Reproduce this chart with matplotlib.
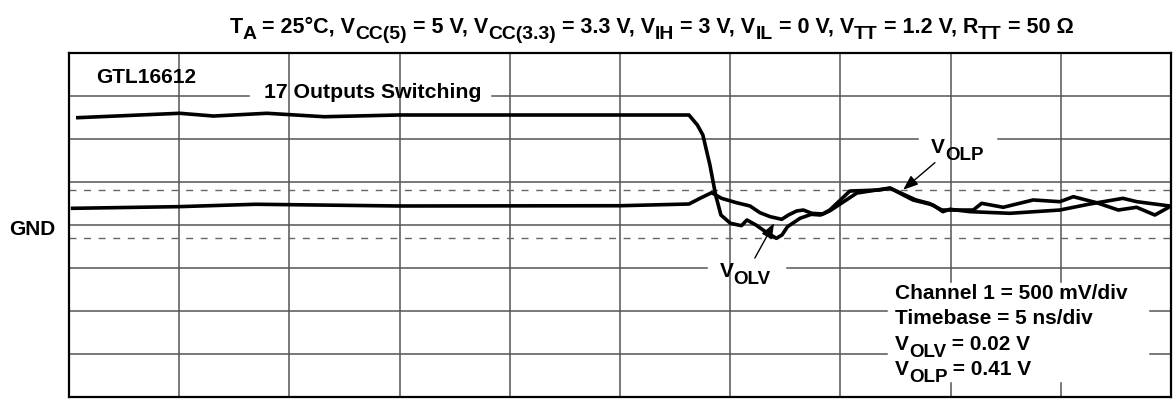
import re
import numpy as np
import matplotlib
matplotlib.use("Agg")
import matplotlib.pyplot as plt

plt.rcParams["font.family"] = ["Liberation Sans", "DejaVu Sans"]

# scope traces, time in ns, voltage in V (500 mV/div, 5 ns/div)
t_hi = [0.40, 5.02, 6.56, 8.98, 11.57, 14.97, 28.13, 28.51, 28.76, 29.08, 29.34,
        29.58, 30.01, 30.51, 30.76, 31.17, 31.60, 32.10, 32.35, 32.60, 33.17,
        33.68, 34.10, 34.52, 35.43, 36.77, 37.27, 37.93, 38.43, 39.02, 39.61,
        41.03, 41.41, 42.39, 43.75, 44.96, 45.57, 46.63, 47.61, 48.44, 49.27, 49.95]
v_hi = [1.248, 1.299, 1.267, 1.299, 1.259, 1.279, 1.279, 1.163, 1.047, 0.698, 0.349,
        0.116, 0.020, -0.008, 0.058, 0.000, -0.078, -0.155, -0.116, -0.020, 0.078,
        0.124, 0.116, 0.174, 0.395, 0.407, 0.427, 0.349, 0.291, 0.252, 0.174,
        0.174, 0.252, 0.206, 0.291, 0.271, 0.329, 0.259, 0.174, 0.206, 0.116, 0.213]

t_lo = [0.16, 4.94, 8.48, 14.97, 25.00, 28.13, 28.63, 29.16, 29.61, 30.29, 30.90,
        31.35, 31.81, 32.34, 32.64, 33.02, 33.32, 33.70, 34.22, 34.53, 35.75,
        37.25, 38.29, 39.20, 39.65, 39.97, 40.88, 42.69, 44.96, 46.32, 47.82,
        48.45, 49.95]
v_lo = [0.194, 0.213, 0.241, 0.221, 0.224, 0.244, 0.310, 0.376, 0.310, 0.259, 0.221,
        0.143, 0.097, 0.066, 0.116, 0.163, 0.174, 0.136, 0.128, 0.166, 0.372,
        0.430, 0.291, 0.233, 0.155, 0.183, 0.155, 0.136, 0.174, 0.244, 0.310,
        0.271, 0.221]

v_olp = 0.41
v_olv = 0.02
v_valley_ref = -0.15

title = ("T_{A} = 25°C, V_{CC(5)} = 5 V, V_{CC(3.3)} = 3.3 V, V_{IH} = 3 V, "
         "V_{IL} = 0 V, V_{TT} = 1.2 V, R_{TT} = 50 Ω")
info_lines = ["Channel 1 = 500 mV/div", "Timebase = 5 ns/div",
              "V_{OLV} = %.2f V" % v_olv, "V_{OLP} = %.2f V" % v_olp]

fig = plt.figure(figsize=(11.76, 4.03), dpi=100)
ax = fig.add_axes([0.0587, 0.0149, 0.9370, 0.8536])
ax.set_xlim(0, 50)
ax.set_ylim(-2, 2)
ax.set_xticks([])
ax.set_yticks([])
for sp in ax.spines.values():
    sp.set_linewidth(1.6)
    sp.set_zorder(5)

# graticule, with breaks where labels sit on the lines
h_gaps = {1.5: [(8.17, 19.19)], 1.0: [(38.52, 42.15)], -0.5: [(28.93, 32.60)],
          -1.0: [(37.10, 49.03)], -1.5: [(37.10, 49.03)]}
v_gaps = {40: [(-1.837, -0.659)], 45: [(-1.837, -0.659)]}


def pieces(lo, hi, gaps):
    out, start = [], lo
    for a, b in gaps:
        out.append((start, a))
        start = b
    out.append((start, hi))
    return out


grid_kw = dict(color="#555555", lw=1.1, zorder=1)
for y in np.arange(-1.5, 2.0, 0.5):
    for a, b in pieces(0, 50, h_gaps.get(round(y, 1), [])):
        ax.plot([a, b], [y, y], **grid_kw)
for x in range(5, 50, 5):
    for a, b in pieces(-2, 2, v_gaps.get(x, [])):
        ax.plot([x, x], [a, b], **grid_kw)

for lvl in (v_olp, v_valley_ref):
    ax.axhline(lvl, color="#666666", lw=1.0, dashes=(5, 5.5), zorder=1)

ax.plot(t_hi, v_hi, color="black", lw=2.6, solid_joinstyle="round", zorder=3)
ax.plot(t_lo, v_lo, color="black", lw=2.6, solid_joinstyle="round", zorder=3)

arrow = dict(arrowstyle="-|>,head_length=0.9,head_width=0.35", lw=1.0,
             color="black", shrinkA=0, shrinkB=0)
ax.annotate("", xy=(37.85, v_olp), xytext=(39.29, 0.725), arrowprops=arrow)
ax.annotate("", xy=(31.99, v_olv), xytext=(31.12, -0.384), arrowprops=arrow)

fig.canvas.draw()
renderer = fig.canvas.get_renderer()


def width(s, size):
    a = fig.text(0, 0, "|" + s + "|", fontsize=size, fontweight="bold")
    b = fig.text(0, 0, "||", fontsize=size, fontweight="bold")
    w = a.get_window_extent(renderer).width - b.get_window_extent(renderer).width
    a.remove()
    b.remove()
    return w


def rich(xy, s, size, coords="data", ha="left", sub=0.9, drop=7):
    # split "V_{OLP} = ..." into normal and subscript runs
    runs = []
    for i, chunk in enumerate(re.split(r"_\{([^}]*)\}", s)):
        if chunk:
            fs = size * sub if i % 2 else size
            runs.append((chunk, fs, -drop if i % 2 else 0))
    widths = [width(c, fs) for c, fs, _ in runs]
    dx = -sum(widths) / 2 if ha == "center" else 0
    for (c, fs, dy), w in zip(runs, widths):
        ax.annotate(c, xy=xy, xycoords=coords, xytext=(dx, dy),
                    textcoords="offset pixels", fontsize=fs, fontweight="bold",
                    ha="left", va="baseline", annotation_clip=False)
        dx += w


rich((651.5 / 1176, 1 - 33 / 403), title, 15.5, coords="figure fraction",
     ha="center", drop=6)
rich((1.22, 1.651), "GTL16612", 15)
rich((8.83, 1.477), "17 Outputs Switching", 15.3)
rich((39.11, 0.837), "V_{OLP}", 15)
rich((29.51, -0.605), "V_{OLV}", 15)
for yb, line in zip([-0.860, -1.155, -1.453, -1.744], info_lines):
    rich((37.48, yb), line, 15)
ax.annotate("GND", xy=(0, -0.116), xytext=(-14, 0), textcoords="offset pixels",
            fontsize=15, fontweight="bold", ha="right", va="baseline",
            annotation_clip=False)

fig.savefig("out.png", dpi=100)
